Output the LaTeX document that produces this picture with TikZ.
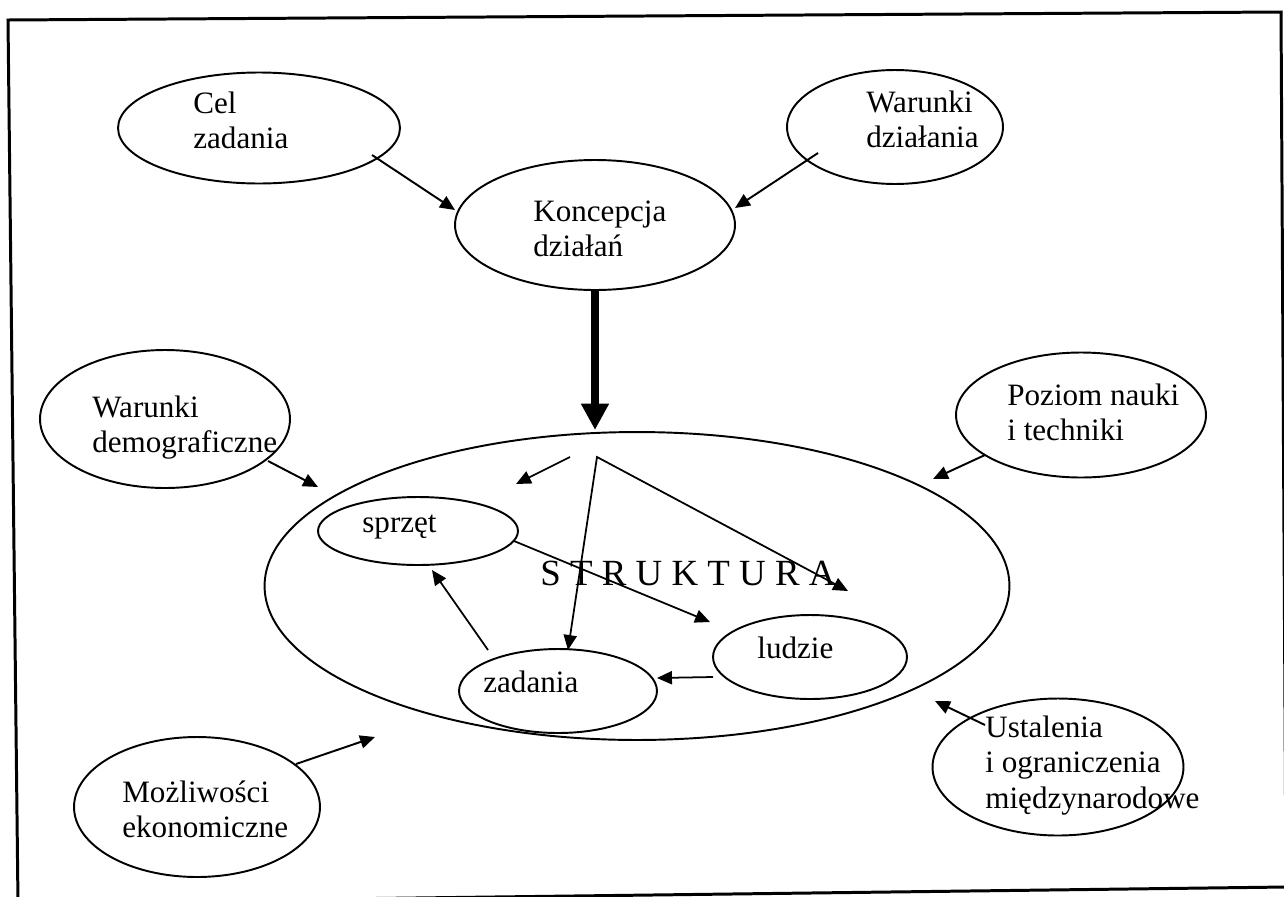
\documentclass[tikz,border=0pt]{standalone}
\usepackage{fontspec}
\setmainfont{Liberation Serif}
\usetikzlibrary{shapes.geometric,arrows.meta}
\newcommand\twoln[2]{\vtop{\hbox{#1}\hbox{#2}}}
\newcommand\threeln[3]{\vtop{\hbox{#1}\hbox{#2}\hbox{#3}}}
\begin{document}
\begin{tikzpicture}[x=0.02cm,y=-0.02cm,
  ell/.style={ellipse,draw,line width=1.1pt,inner sep=0pt},
  txt/.style={inner sep=0pt,anchor=base west,font=\fontsize{17.7pt}{20.3pt}\selectfont},
  arr/.style={line width=1.1pt,-{Triangle[length=8.5pt,width=7.5pt]}},
  inarr/.style={line width=1pt,-{Triangle[length=8.5pt,width=7.5pt]}},
  thickarr/.style={line width=4.5pt,-{Triangle[length=15pt,width=15pt]}},
  frame/.style={line width=1.7pt}
]
\useasboundingbox (0,0) rectangle (1284,896);
\fill[white] (0,0) rectangle (1284,896);
\draw[frame] (8,20) -- (1281,12) -- (1286,887) -- (18,903) -- cycle;

% ellipses
\node[ell,minimum width=5.64cm,minimum height=2.22cm] (cel) at (259,128) {};
\node[ell,minimum width=4.32cm,minimum height=2.28cm] (wd) at (895,127) {};
\node[ell,minimum width=5.6cm,minimum height=2.6cm] (kon) at (595,225) {};
\node[ell,minimum width=14.9cm,minimum height=6.16cm] (str) at (637,586) {};
\node[ell,minimum width=5.0cm,minimum height=2.76cm] (wdem) at (165,419) {};
\node[ell,minimum width=5.0cm,minimum height=2.5cm] (poz) at (1081,415) {};
\node[ell,minimum width=5.02cm,minimum height=2.74cm] (ust) at (1058,767) {};
\node[ell,minimum width=4.92cm,minimum height=2.8cm] (moz) at (197,807) {};
\node[ell,minimum width=4.0cm,minimum height=1.36cm] (spr) at (418,531) {};
\node[ell,minimum width=3.96cm,minimum height=1.68cm] (zad) at (558,691) {};
\node[ell,minimum width=3.88cm,minimum height=1.68cm] (lud) at (810,657) {};

% texts
\node[txt] (celt) at (193,113) {\twoln{Cel}{zadania}};
\node[txt] (wdt) at (866,112) {\twoln{Warunki}{działania}};
\node[txt] (kont) at (533,221) {\twoln{Koncepcja}{działań}};
\node[txt] (wdemt) at (92,417) {\twoln{Warunki}{demograficzne}};
\node[txt] (pozt) at (1007,405) {\twoln{Poziom nauki}{i techniki}};
\node[txt] (ustt) at (985,737) {\threeln{Ustalenia}{i ograniczenia}{międzynarodowe}};
\node[txt] (mozt) at (122,802) {\twoln{Możliwości}{ekonomiczne}};
\node[txt] (sprt) at (362,532) {sprzęt};
\node[txt] (zadt) at (483,692) {zadania};
\node[txt] (ludt) at (757,658) {ludzie};
\node[txt,font=\fontsize{21pt}{24pt}\selectfont] (strt) at (540,585)
  {\makebox[168pt][s]{S\hfil T\hfil R\hfil U\hfil K\hfil T\hfil U\hfil R\hfil A}};

% free ends
\coordinate (a1s) at (372,155); \coordinate (a1e) at (455,210);
\coordinate (a2s) at (818,153); \coordinate (a2e) at (735,208);
\coordinate (tks) at (595,290); \coordinate (tke) at (595,430);
\coordinate (a3s) at (268,461); \coordinate (a3e) at (318,487);
\coordinate (a4s) at (985,455); \coordinate (a4e) at (933,479);
\coordinate (a5s) at (985,725); \coordinate (a5e) at (935,701);
\coordinate (a6s) at (296,764); \coordinate (a6e) at (375,737);
\coordinate (b1s) at (570,457); \coordinate (b1e) at (516,484);
\coordinate (apex) at (597,457);
\coordinate (b2e) at (568,650); \coordinate (b3e) at (848,591);
\coordinate (b4s) at (514,541); \coordinate (b4e) at (710,622);
\coordinate (b5s) at (713,677); \coordinate (b5e) at (657,678);
\coordinate (b6s) at (488,650); \coordinate (b6e) at (432,570);

% connectors
\draw[arr] (a1s) -- (a1e);
\draw[arr] (a2s) -- (a2e);
\draw[thickarr] (tks) -- (tke);
\draw[arr] (a3s) -- (a3e);
\draw[arr] (a4s) -- (a4e);
\draw[arr] (a5s) -- (a5e);
\draw[arr] (a6s) -- (a6e);
\draw[inarr] (b1s) -- (b1e);
\draw[line width=1pt,{Triangle[length=8.5pt,width=7.5pt]}-{Triangle[length=8.5pt,width=7.5pt]},line join=miter] (b2e) -- (apex) -- (b3e);
\draw[inarr] (b4s) -- (b4e);
\draw[inarr] (b5s) -- (b5e);
\draw[inarr] (b6s) -- (b6e);
\end{tikzpicture}
\end{document}
